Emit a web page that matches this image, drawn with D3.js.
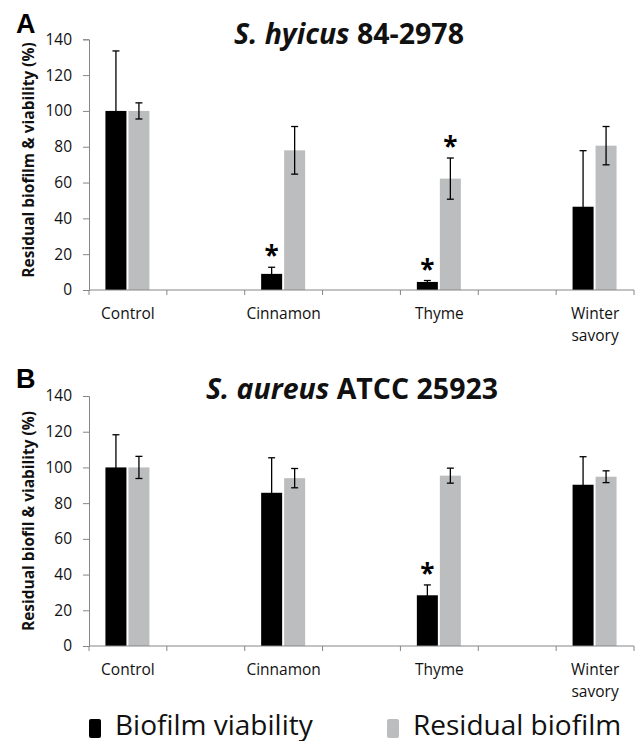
<!DOCTYPE html>
<html>
<head>
<meta charset="utf-8">
<script src="https://cdn.jsdelivr.net/npm/d3@7.9.0/dist/d3.min.js"></script>
<style>
  body { margin: 0; background: #fff; }
  svg { display: block; font-family: 'Open Sans', sans-serif; }
</style>
</head>
<body>
<svg id="chart" width="638" height="741"></svg>
<script>
// categories, with empty slots between them like the original spreadsheet
const categories = ['Control', 'Cinnamon', 'Thyme', 'Winter savory'];
const slots = ['Control', 'gap1', 'Cinnamon', 'gap2', 'Thyme', 'gap3', 'Winter savory'];
const yTicks = [0, 20, 40, 60, 80, 100, 120, 140];
const seriesNames = ['Biofilm viability', 'Residual biofilm'];
const seriesColors = ['#000000', '#bcbdbf'];

// panel A - S. hyicus 84-2978
const hyicusViability = [100, 9, 4.5, 46.5];
const hyicusViabilityErr = [33.5, 3.7, 0.8, 31.3];
const hyicusResidual = [100, 78, 62.2, 80.6];
const hyicusResidualErr = [4.5, 13.3, 11.5, 10.7];
const hyicusViabilityStar = [false, true, true, false];
const hyicusResidualStar = [false, false, true, false];

// panel B - S. aureus ATCC 25923
const aureusViability = [100, 85.8, 28.4, 90.3];
const aureusViabilityErr = [18.3, 19.6, 5.8, 15.7];
const aureusResidual = [100, 94, 95.4, 94.8];
const aureusResidualErr = [6.2, 5.4, 4.2, 3.3];
const aureusViabilityStar = [false, false, true, false];
const aureusResidualStar = [false, false, false, false];

const svg = d3.select('#chart');
const axisColor = '#868686';

const x = d3.scaleBand().domain(slots).range([89, 634]).padding(0);
const barW = 21;

function drawPanel(p) {
  const y = d3.scaleLinear().domain([0, 140]).range([p.bottom, p.top]);
  const g = svg.append('g');

  // y axis
  const yAxis = g.append('g')
    .attr('transform', 'translate(89,0)')
    .call(d3.axisLeft(y).tickValues(yTicks).tickSize(6).tickPadding(11));
  yAxis.select('.domain').attr('stroke', axisColor);
  yAxis.selectAll('.tick line').attr('stroke', axisColor);
  yAxis.selectAll('.tick text')
    .attr('font-family', "'Open Sans', sans-serif")
    .attr('font-size', 15.5).attr('fill', '#111');

  // bars + error bars
  const series = [
    { vals: p.viability, err: p.viabilityErr, star: p.viabilityStar, off: -barW - 1.5 },
    { vals: p.residual, err: p.residualErr, star: p.residualStar, off: 0.5 }
  ];
  series.forEach((s, si) => {
    categories.forEach((c, i) => {
      const cx = x(c) + x.bandwidth() / 2;
      const bx = cx + s.off;
      g.append('rect')
        .attr('x', bx).attr('y', y(s.vals[i]))
        .attr('width', barW).attr('height', y(0) - y(s.vals[i]))
        .attr('fill', seriesColors[si]);
      const mx = bx + barW / 2;
      const top = y(s.vals[i] + s.err[i]);
      const bot = y(s.vals[i] - s.err[i]);
      g.append('line').attr('x1', mx).attr('x2', mx).attr('y1', top).attr('y2', bot)
        .attr('stroke', '#000').attr('stroke-width', 1.3);
      [top, bot].forEach(yy => {
        g.append('line').attr('x1', mx - 3.5).attr('x2', mx + 3.5).attr('y1', yy).attr('y2', yy)
          .attr('stroke', '#000').attr('stroke-width', 1.3);
      });
      if (s.star[i]) {
        g.append('text').attr('x', mx).attr('y', top - 2)
          .attr('text-anchor', 'middle').attr('font-weight', 'bold')
          .attr('font-size', 26).text('*');
      }
    });
  });

  // x axis with ticks on slot boundaries
  g.append('line').attr('x1', x.range()[0]).attr('x2', x.range()[1])
    .attr('y1', y(0)).attr('y2', y(0)).attr('stroke', axisColor);
  slots.concat(['end']).forEach((s, i) => {
    const xx = x.range()[0] + i * x.step();
    g.append('line').attr('x1', xx).attr('x2', xx).attr('y1', y(0)).attr('y2', y(0) + 5)
      .attr('stroke', axisColor);
  });

  // category labels
  categories.forEach(c => {
    const cx = x(c) + x.bandwidth() / 2;
    const lines = c === 'Winter savory' ? ['Winter', 'savory'] : [c];
    const t = g.append('text').attr('text-anchor', 'middle')
      .attr('font-size', 15.5).attr('fill', '#111');
    lines.forEach((l, li) => {
      t.append('tspan').attr('x', cx).attr('y', y(0) + 29 + li * 22).text(l);
    });
  });

  // y label
  g.append('text')
    .attr('transform', `translate(34,${p.labelY}) rotate(-90)`)
    .attr('text-anchor', 'middle').attr('font-weight', 'bold')
    .attr('font-size', 15.5).attr('fill', '#111')
    .text(p.yLabel);

  // title
  const t = g.append('text').attr('x', p.titleX).attr('y', p.titleY)
    .attr('text-anchor', 'middle').attr('font-weight', 'bold')
    .attr('font-size', 28.5).attr('fill', '#111');
  t.append('tspan').attr('font-style', 'italic').text(p.titleItalic);
  t.append('tspan').text(p.titleRest);

  // panel letter
  g.append('text').attr('x', 16).attr('y', p.letterY)
    .attr('font-family', "'Liberation Sans', Arial, sans-serif")
    .attr('font-weight', 'bold').attr('font-size', 27).text(p.letter);
}

drawPanel({
  letter: 'A', letterY: 33, top: 39.3, bottom: 290,
  titleItalic: 'S. hyicus', titleRest: ' 84-2978', titleX: 349, titleY: 44,
  yLabel: 'Residual biofilm & viability (%)', labelY: 160,
  viability: hyicusViability, viabilityErr: hyicusViabilityErr, viabilityStar: hyicusViabilityStar,
  residual: hyicusResidual, residualErr: hyicusResidualErr, residualStar: hyicusResidualStar
});

drawPanel({
  letter: 'B', letterY: 388, top: 396, bottom: 646,
  titleItalic: 'S. aureus', titleRest: ' ATCC 25923', titleX: 352, titleY: 399,
  yLabel: 'Residual biofil & viability (%)', labelY: 521,
  viability: aureusViability, viabilityErr: aureusViabilityErr, viabilityStar: aureusViabilityStar,
  residual: aureusResidual, residualErr: aureusResidualErr, residualStar: aureusResidualStar
});

// legend
const legendX = [89, 387];
seriesNames.forEach((n, i) => {
  svg.append('rect').attr('x', legendX[i]).attr('y', 719).attr('width', 12).attr('height', 19)
    .attr('rx', 2).attr('fill', seriesColors[i]);
  svg.append('text').attr('x', legendX[i] + 26).attr('y', 735)
    .attr('font-size', 28).attr('fill', '#111').text(n);
});
</script>
</body>
</html>
